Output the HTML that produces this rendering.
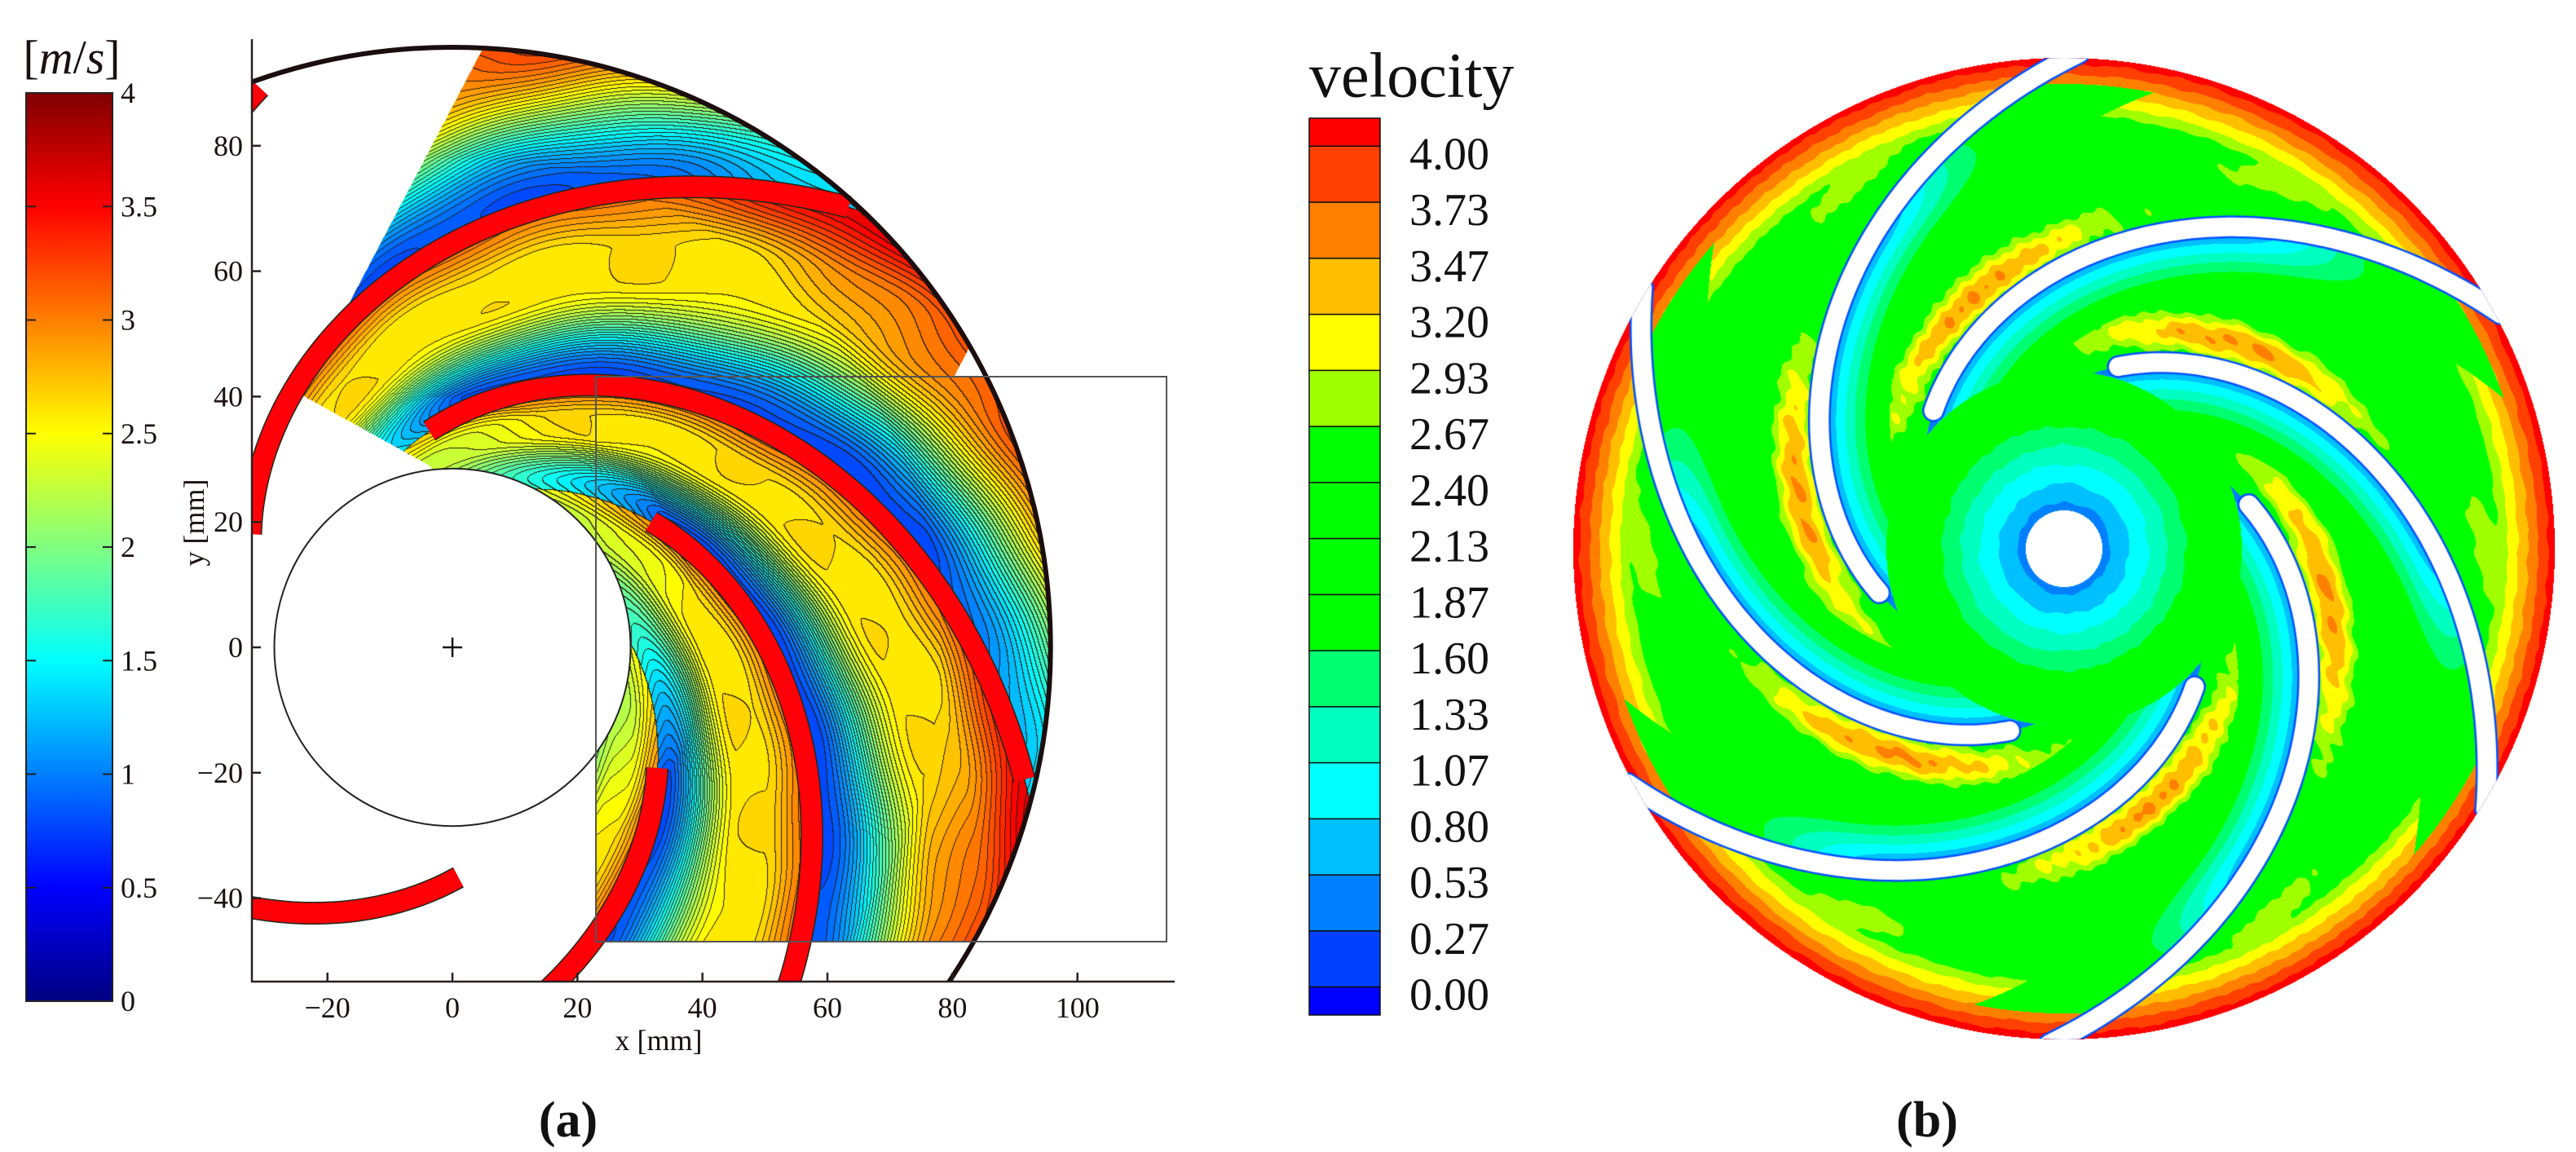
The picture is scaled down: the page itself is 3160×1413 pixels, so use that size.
<!DOCTYPE html>
<html><head><meta charset="utf-8">
<style>
html,body{margin:0;padding:0;background:#fff;overflow:hidden;width:3160px;height:1413px;}
#root{position:relative;width:3160px;height:1413px;overflow:hidden;background:#fff;font-family:"Liberation Serif","DejaVu Serif",serif;}
canvas,svg{position:absolute;display:block;}
text{font-family:"Liberation Serif","DejaVu Serif",serif !important;}
</style></head>
<body>
<div id="root">
<canvas id="ca" width="1132" height="1156" style="left:309px;top:48px"></canvas>
<canvas id="cb" width="1204" height="1204" style="left:1930px;top:71px"></canvas>
<svg id="ov" width="3160" height="1413" style="left:0;top:0" xmlns="http://www.w3.org/2000/svg">
  <defs>
    <clipPath id="axclip"><rect x="309" y="48" width="1132" height="1156"/></clipPath>
    <linearGradient id="jet" x1="0" y1="1" x2="0" y2="0">
      <stop offset="0" stop-color="#000080"/>
      <stop offset="0.125" stop-color="#0000ff"/>
      <stop offset="0.375" stop-color="#00ffff"/>
      <stop offset="0.5" stop-color="#80ff80"/>
      <stop offset="0.625" stop-color="#ffff00"/>
      <stop offset="0.875" stop-color="#ff0000"/>
      <stop offset="1" stop-color="#800000"/>
    </linearGradient>
  </defs>
  <g id="blades-a" clip-path="url(#axclip)"></g>
  <g clip-path="url(#axclip)">
    <ellipse cx="555" cy="794" rx="733.7" ry="736" fill="none" stroke="#1c0e0e" stroke-width="6"/>
  </g>
  <ellipse cx="555" cy="794" rx="218.5" ry="219.2" fill="none" stroke="#222" stroke-width="2"/>
  <g stroke="#111" stroke-width="2.5">
    <line x1="543" y1="794" x2="567" y2="794"/><line x1="555" y1="782" x2="555" y2="806"/>
  </g>
  <rect x="731" y="462" width="700" height="693" fill="none" stroke="#555" stroke-width="2"/>
  <g id="axes-a">
    <line x1="309" y1="48" x2="309" y2="1205" stroke="#2a2020" stroke-width="2.5"/>
    <line x1="308" y1="1204" x2="1441" y2="1204" stroke="#2a2020" stroke-width="2.5"/>
  </g>
  <text x="808" y="1276" font-size="36" text-anchor="middle" dominant-baseline="central" fill="#1a1010">x [mm]</text>
  <text x="238" y="641" font-size="36" text-anchor="middle" dominant-baseline="central" fill="#1a1010" transform="rotate(-90 238 641)">y [mm]</text>
  <g id="cbar-a">
    <rect x="32" y="114" width="106" height="1114" fill="url(#jet)" stroke="#222" stroke-width="2"/>
  </g>
  <text x="88" y="70" font-size="58" text-anchor="middle" dominant-baseline="central" fill="#1a1010">[<tspan font-style="italic">m</tspan>/<tspan font-style="italic">s</tspan>]</text>
  <text x="697" y="1374" font-size="62" font-weight="bold" text-anchor="middle" dominant-baseline="central" fill="#111">(a)</text>
  <g id="cbar-b"></g>
  <text x="1606" y="92" font-size="78" dominant-baseline="central" fill="#111">velocity</text>
  <text x="2364" y="1374" font-size="62" font-weight="bold" text-anchor="middle" dominant-baseline="central" fill="#111">(b)</text>
</svg>
</div>
<script>
// ---------- data arrays ----------
const xTicks = [-20, 0, 20, 40, 60, 80, 100];
const yTicks = [-40, -20, 0, 20, 40, 60, 80];
const cbarATicks = [0, 0.5, 1, 1.5, 2, 2.5, 3, 3.5, 4];
const cbarATickLabels = ["0", "0.5", "1", "1.5", "2", "2.5", "3", "3.5", "4"];
const cbarBLabels = ["4.00","3.73","3.47","3.20","2.93","2.67","2.40","2.13","1.87","1.60","1.33","1.07","0.80","0.53","0.27","0.00"];
const cbarBColors = ["#ff0000","#ff4000","#ff8000","#ffbf00","#ffff00","#a0ff00","#00ff00","#00ff00","#00ff00","#00ff00","#00ff70","#00ffc0","#00ffff","#00c0ff","#0080ff","#0040ff","#0000ff"];
const cbarBThresholds = [0.00,0.27,0.53,0.80,1.07,1.33,1.60,1.87,2.13,2.40,2.67,2.93,3.20,3.47,3.73,4.00];
const bladePhiA = [-89.4, -27.5, 34, 89.1, 150.8, 211.7];
const bladeStartA = [36.7, 38, 37.6, 34.7, 37, 80];
const bladeTipAngleB = [166.6, 226.6, 286.6, 346.6, 406.6, 466.6];

// ---------- scales ----------
const KX = 7.667, KY = 7.69, X0 = 555, Y0 = 794;
const sx = v => X0 + v * KX;
const sy = v => Y0 - v * KY;
const CB_TOP = 114, CB_BOT = 1228, CB_MAX = 4;
const cbY = v => CB_BOT - (v / CB_MAX) * (CB_BOT - CB_TOP);
const SPIRAL = 109.6;
const NS = "http://www.w3.org/2000/svg";
const ov = document.getElementById('ov');

function mk(tag, attrs, parent) {
  const e = document.createElementNS(NS, tag);
  for (const k in attrs) e.setAttribute(k, attrs[k]);
  (parent || ov).appendChild(e);
  return e;
}

// ---------- axes ticks ----------
const axesA = document.getElementById('axes-a');
xTicks.forEach(t => {
  const tk = mk('line', {x1: sx(t), y1: 1204, x2: sx(t), y2: 1193, stroke: '#2a2020', 'stroke-width': 2.5}, axesA);
  
  
  const lb = mk('text', {x: sx(t), y: 1236, 'font-size': 36, 'text-anchor': 'middle', 'dominant-baseline': 'central', fill: '#1a1010'}, axesA);
  lb.textContent = t < 0 ? '\u2212' + Math.abs(t) : String(t);
  
  
});
yTicks.forEach(t => {
  const tk = mk('line', {x1: 309, y1: sy(t), x2: 320, y2: sy(t), stroke: '#2a2020', 'stroke-width': 2.5}, axesA);
  
  
  const lb = mk('text', {x: 298, y: sy(t), 'font-size': 36, 'text-anchor': 'end', 'dominant-baseline': 'central', fill: '#1a1010'}, axesA);
  lb.textContent = t < 0 ? '\u2212' + Math.abs(t) : String(t);
  
  
});

// ---------- colorbar A ticks ----------
const cbA = document.getElementById('cbar-a');
cbarATicks.forEach((t, i) => {
  if (t > 0 && t < 4) {
    const l1 = mk('line', {x1: 32, y1: cbY(t), x2: 44, y2: cbY(t), stroke: '#222', 'stroke-width': 2}, cbA);
    
    
    const l2 = mk('line', {x1: 126, y1: cbY(t), x2: 138, y2: cbY(t), stroke: '#222', 'stroke-width': 2}, cbA);
    
    
  }
  const lb = mk('text', {x: 148, y: cbY(t), 'font-size': 36, 'dominant-baseline': 'central', fill: '#1a1010'}, cbA);
  lb.textContent = cbarATickLabels[i];
  
  
});

// ---------- colorbar B ----------
const cbB = document.getElementById('cbar-b');
const CBB_TOP = 145, CBB_BOT = 1245, CBB_X = 1606, CBB_W = 87;
const unit = (CBB_BOT - CBB_TOP) / (cbarBColors.length - 1);
cbarBColors.forEach((c, i) => {
  const y0 = i === 0 ? CBB_TOP : CBB_TOP + unit / 2 + (i - 1) * unit;
  const y1 = i === cbarBColors.length - 1 ? CBB_BOT : CBB_TOP + unit / 2 + i * unit;
  const r = mk('rect', {x: CBB_X, y: y0, width: CBB_W, height: y1 - y0, fill: c, stroke: '#111', 'stroke-width': 1.5}, cbB);
  
  
});
cbarBLabels.forEach((s, i) => {
  const y = CBB_TOP + unit / 2 + i * unit;
  const lb = mk('text', {x: 1729, y: y + 10, 'font-size': 56, 'dominant-baseline': 'central', fill: '#111'}, cbB);
  lb.textContent = s;
  
  
});

// ---------- blades (a) ----------
const bladesA = document.getElementById('blades-a');
bladePhiA.forEach((phi, i) => {
  let d = '';
  for (let r = bladeStartA[i]; r <= 94.6; r += 0.8) {
    const th = (phi - SPIRAL * Math.log(r / 37)) * Math.PI / 180;
    const px = sx(r * Math.cos(th)), py = sy(r * Math.sin(th));
    d += (d ? 'L' : 'M') + px.toFixed(1) + ' ' + py.toFixed(1);
  }
  const o = mk('path', {d: d, fill: 'none', stroke: '#1a2a1a', 'stroke-width': 28, 'stroke-linejoin': 'round'}, bladesA);
  
  
  const b = mk('path', {d: d, fill: 'none', stroke: '#ff0008', 'stroke-width': 25, 'stroke-linejoin': 'round'}, bladesA);
  
  
});

// ---------- helpers ----------
function clamp(v) { return v < 0 ? 0 : v > 1 ? 1 : v; }
function ss(a, b, x) { const t = clamp((x - a) / (b - a)); return t * t * (3 - 2 * t); }
function jet(t) {
  return [clamp(1.5 - Math.abs(4 * t - 3)), clamp(1.5 - Math.abs(4 * t - 2)), clamp(1.5 - Math.abs(4 * t - 1))];
}
const upperPoly = [[-24.2,40.3],[-3.7,29],[10,16],[23,16],[23,43.2],[80.3,43.2],[90,62.1],[60,120],[10,105.3]];
function inPoly(x, y, p) {
  let c = false;
  for (let i = 0, j = p.length - 1; i < p.length; j = i++) {
    const xi = p[i][0], yi = p[i][1], xj = p[j][0], yj = p[j][1];
    if (((yi > y) !== (yj > y)) && (x < (xj - xi) * (y - yi) / (yj - yi) + xi)) c = !c;
  }
  return c;
}

// ---------- field (a) ----------
function fieldA(x, y) {
  const r = Math.hypot(x, y);
  const th = Math.atan2(y, x) * 180 / Math.PI;
  let p = th + SPIRAL * Math.log(r / 37);
  const base = bladePhiA[0];
  p = ((p - base) % 360 + 360) % 360 + base;
  let L = bladePhiA[bladePhiA.length - 1], U = bladePhiA[0] + 360;
  for (let i = 0; i < bladePhiA.length; i++) {
    const lo = bladePhiA[i];
    const hi = i + 1 < bladePhiA.length ? bladePhiA[i + 1] : bladePhiA[0] + 360;
    if (p >= lo && p < hi) { L = lo; U = hi; break; }
  }
  const s = (p - L) / (U - L);
  let v = 0.8 + 1.8 * ss(0.06, 0.6, s) + 0.45 * ss(0.75, 1.0, s);
  if (r > 78) v += (r - 78) / 17.7 * 0.6;
  if (r < 40) { const w = clamp((40 - r) / 11.5) * 0.7; v = v * (1 - w) + 2.1 * w; }
  v += 0.03 * Math.sin(x * 0.22 + y * 0.12) + 0.02 * Math.sin(y * 0.31 - x * 0.17);
  return v;
}

(function drawA() {
  const cv = document.getElementById('ca');
  const W = cv.width, H = cv.height;
  const ctx = cv.getContext('2d');
  const img = ctx.createImageData(W, H);
  const D = img.data;
  const STEP = 0.075;
  const lev = new Int32Array(W * H).fill(-9999);
  for (let j = 0; j < H; j++) {
    const y = (Y0 - (48 + j + 0.5)) / KY;
    for (let i = 0; i < W; i++) {
      const x = (309 + i + 0.5 - X0) / KX;
      const r = Math.hypot(x, y);
      if (r < 28.5 || r > 95.7) continue;
      const inRect = x >= 23 && x <= 114.3 && y >= -47 && y <= 43.2;
      if (!inRect && !inPoly(x, y, upperPoly)) continue;
      const v = fieldA(x, y);
      const k = Math.floor(v / STEP);
      lev[j * W + i] = k;
      const c = jet(clamp((k + 0.5) * STEP / 4));
      const o = (j * W + i) * 4;
      D[o] = c[0] * 255; D[o + 1] = c[1] * 255; D[o + 2] = c[2] * 255; D[o + 3] = 255;
    }
  }
  for (let j = 1; j < H; j++) {
    for (let i = 1; i < W; i++) {
      const id = j * W + i;
      const k = lev[id];
      if (k === -9999) continue;
      const kl = lev[id - 1], ku = lev[id - W];
      if ((kl !== -9999 && kl !== k) || (ku !== -9999 && ku !== k)) {
        const o = id * 4;
        D[o] = 40; D[o + 1] = 28; D[o + 2] = 20;
      }
    }
  }
  ctx.putImageData(img, 0, 0);
})();

// ---------- field (b) ----------
function colorB(v) {
  let idx = 0;
  while (idx < cbarBThresholds.length && v >= cbarBThresholds[idx]) idx++;
  return cbarBColors[cbarBColors.length - 1 - idx];
}
function hexRGB(h) { return [parseInt(h.substr(1,2),16), parseInt(h.substr(3,2),16), parseInt(h.substr(5,2),16)]; }
const colCache = {};
(function drawB() {
  const cv = document.getElementById('cb');
  const W = cv.width, H = cv.height, C = 602, R = 602, RT = 233;
  const ctx = cv.getContext('2d');
  const img = ctx.createImageData(W, H);
  const D = img.data;
  const SINB = 0.463;
  for (let j = 0; j < H; j++) {
    const dy = j + 0.5 - C;
    for (let i = 0; i < W; i++) {
      const dx = i + 0.5 - C;
      const r = Math.hypot(dx, dy);
      if (r > R || r < 47) continue;
      const a = Math.atan2(dy, dx) * 180 / Math.PI;
      const psi = a - SPIRAL * Math.log(r / RT);
      const u = (((psi - bladeTipAngleB[0]) % 60) + 60) % 60;
      const arcL = u * Math.PI / 180 * r, arcU = (60 - u) * Math.PI / 180 * r;
      const dBlue = arcL * SINB, dStreak = arcU * SINB;
      const nz = 0.07 * Math.sin(dx * 0.09 + 1.3) * Math.sin(dy * 0.11) + 0.04 * Math.sin(dx * 0.23 - dy * 0.19);
      let v = 2.2;
      const streak = 1.3 * Math.exp(-Math.pow((dStreak - 38) / 30, 2)) * Math.exp(-Math.pow((r - 330) / 85, 2));
      if (streak > 0.1) v = Math.max(v, 2.2 + streak + nz * 1.5);
      const patch = 0.6 * Math.exp(-Math.pow((dStreak - 60) / 45, 2)) * ss(450, 520, r);
      v = Math.max(v, 2.2 + patch + nz * 0.6);
      if (r > 515) v = Math.max(v, 2.67 + (r - 532) / 62 * 1.33 + nz * 0.4);
      if (r > RT - 15) {
        const g = 1 - ss(430, 570, r);
        const vb = 0.3 + dBlue * 0.025;
        if (vb < 2.2 && g > 0) v = Math.min(v, 2.2 - g * (2.2 - vb));
      }
      if (r < 170) v = Math.min(v, 0.42 + (r - 47) * 0.0115 + nz * 0.3);
      const col = colorB(v);
      let rgb = colCache[col];
      if (!rgb) { rgb = hexRGB(col); colCache[col] = rgb; }
      const o = (j * W + i) * 4;
      D[o] = rgb[0]; D[o + 1] = rgb[1]; D[o + 2] = rgb[2]; D[o + 3] = 255;
    }
  }
  ctx.putImageData(img, 0, 0);
  ctx.save();
  ctx.beginPath(); ctx.arc(C, C, R, 0, Math.PI * 2); ctx.clip();
  bladeTipAngleB.forEach(phi => {
    ctx.beginPath();
    for (let r = RT; r <= 610; r += 3) {
      const th = (phi + SPIRAL * Math.log(r / RT)) * Math.PI / 180;
      const x = C + r * Math.cos(th), y = C + r * Math.sin(th);
      if (r === RT) ctx.moveTo(x, y); else ctx.lineTo(x, y);
    }
    ctx.lineCap = 'round'; ctx.lineJoin = 'round';
    ctx.strokeStyle = '#0050ff'; ctx.lineWidth = 28; ctx.stroke();
    ctx.strokeStyle = '#ffffff'; ctx.lineWidth = 23; ctx.stroke();
  });
  ctx.restore();
})();
</script>
</body></html>
